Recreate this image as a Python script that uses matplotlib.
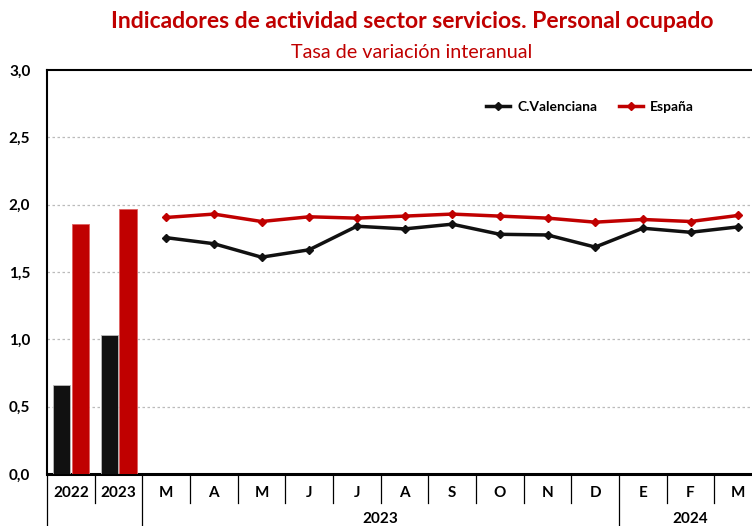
import numpy as np
import matplotlib.pyplot as plt
from matplotlib.lines import Line2D

plt.rcParams['font.family'] = ['Lato', 'DejaVu Sans']

# annual bars
years = ["2022", "2023"]
cv_annual = [0.66, 1.035]
es_annual = [1.86, 1.97]

# monthly series
months = ["M", "A", "M", "J", "J", "A", "S", "O", "N", "D", "E", "F", "M"]
cv_monthly = [1.755, 1.71, 1.61, 1.665, 1.84, 1.82, 1.855, 1.78, 1.775, 1.685, 1.825, 1.795, 1.835]
es_monthly = [1.905, 1.93, 1.875, 1.91, 1.90, 1.915, 1.93, 1.915, 1.90, 1.87, 1.89, 1.875, 1.92]

RED = "#C00000"
BLACK = "#111111"

fig = plt.figure(figsize=(7.52, 5.26), dpi=100)
ax = fig.add_axes([47 / 752, 52 / 526, 705 / 752, 404 / 526])

xa = np.arange(len(years))
w = 0.36
ax.bar(xa - 0.195, cv_annual, w, color=BLACK, edgecolor="#BBBBBB", linewidth=0.6, zorder=3)
ax.bar(xa + 0.2, es_annual, w, color=RED, edgecolor="#E06060", linewidth=0.6, zorder=3)

xm = np.arange(len(months)) + len(years)
ax.plot(xm, cv_monthly, color=BLACK, lw=2.5, marker="D", ms=4.5, zorder=4)
ax.plot(xm, es_monthly, color=RED, lw=2.5, marker="D", ms=4.5, zorder=4)

ax.set_ylim(0, 3.0)
ax.set_xlim(-0.5, 14.29)
ax.set_yticks(np.arange(0, 3.01, 0.5))
ax.set_yticklabels([f"{v:.1f}".replace(".", ",") for v in np.arange(0, 3.01, 0.5)],
                   fontweight="bold", fontsize=11)
ax.tick_params(axis="y", length=0, pad=12)
ax.set_xticks([])
for y in np.arange(0.5, 2.6, 0.5):
    ax.axhline(y, color="#BBBBBB", lw=0.9, ls=(0, (2, 2)), zorder=1)

for s in ["left", "top"]:
    ax.spines[s].set_linewidth(1.5)
ax.spines["bottom"].set_linewidth(2.2)
ax.spines["right"].set_visible(False)

# category labels under the axis
trans = ax.get_xaxis_transform()
labels = years + months
for i, lab in enumerate(labels):
    ax.text(i, -0.047, lab, transform=trans, ha="center", va="center",
            fontsize=11, fontweight="bold")
for i in range(len(labels) + 1):
    xb = i - 0.5
    full = xb in (-0.5, 1.5, 11.5)
    ax.add_line(Line2D([xb, xb], [0, -0.185 if full else -0.072], transform=trans,
                       color="black", lw=0.9, clip_on=False))
ax.text(6.5, -0.112, "2023", transform=trans, ha="center", va="center",
        fontsize=11, fontweight="bold")
ax.text(13, -0.112, "2024", transform=trans, ha="center", va="center",
        fontsize=11, fontweight="bold")

# legend
leg_handles = [Line2D([], [], color=BLACK, lw=2.5, marker="D", ms=4.5),
               Line2D([], [], color=RED, lw=2.5, marker="D", ms=4.5)]
ax.legend(leg_handles, ["C.Valenciana", "España"], loc="upper right",
          bbox_to_anchor=(0.935, 0.955), ncol=2, frameon=False,
          prop={"weight": "bold", "size": 10}, handlelength=1.7,
          columnspacing=1.6, handletextpad=0.5)

fig.text(412 / 752, 1 - 22 / 526, "Indicadores de actividad sector servicios. Personal ocupado",
         ha="center", va="center", color=RED, fontsize=16.5, fontweight="bold")
fig.text(412 / 752, 1 - 53 / 526, "Tasa de variación interanual",
         ha="center", va="center", color=RED, fontsize=14.2)

fig.savefig("out.png", dpi=100)
